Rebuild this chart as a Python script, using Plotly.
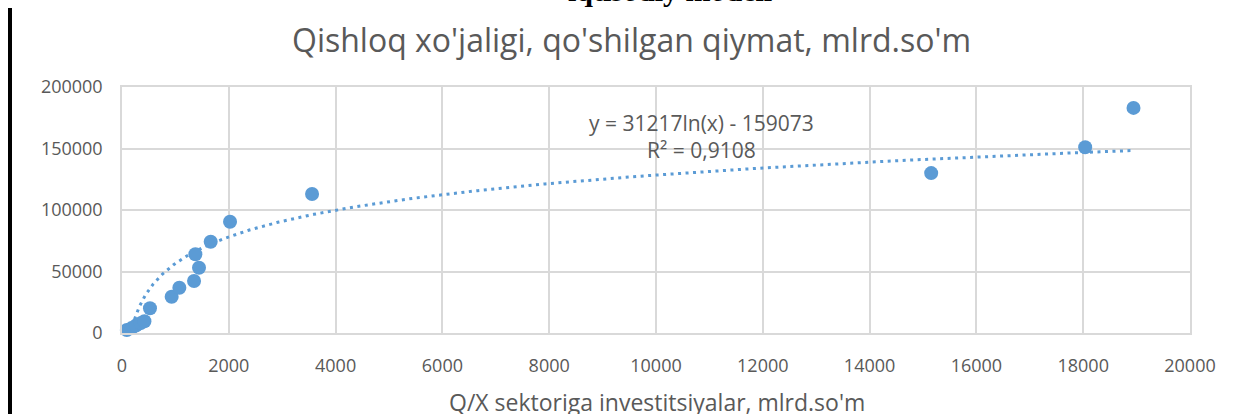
import numpy as np
import plotly.graph_objects as go

# Data
invest = [90, 180, 260, 350, 420, 524, 930, 1074, 1349, 1442, 1374, 1661, 2023, 3559, 15153, 18037, 18942]
value_added = [2500, 4000, 6000, 8000, 9500, 20100, 29500, 36800, 42300, 53100, 64000, 74200, 90500, 113000, 130000, 151000, 183000]

# Logarithmic trendline coefficients (as displayed on chart)
coef_a = 31217
coef_b = -159073
r2_text = "R² = 0,9108"
eq_text = "y = 31217ln(x) - 159073"

x_ticks = [0, 2000, 4000, 6000, 8000, 10000, 12000, 14000, 16000, 18000, 20000]
y_ticks = [0, 50000, 100000, 150000, 200000]

title_text = "Qishloq xo'jaligi, qo'shilgan qiymat, mlrd.so'm"
x_title = "Q/X sektoriga investitsiyalar, mlrd.so'm"
top_text = "iqtisodiy modeli"

blue = "#5B9BD5"
gray_text = "#595959"
grid = "#D9D9D9"
font_family = "Open Sans"

tx = np.geomspace(min(invest), max(invest), 400)
ty = coef_a * np.log(tx) + coef_b

fig = go.Figure()
fig.add_trace(go.Scatter(x=tx, y=ty, mode="lines",
                         line=dict(color=blue, width=3, dash="3px,4.5px"),
                         hoverinfo="skip", showlegend=False))
fig.add_trace(go.Scatter(x=invest, y=value_added, mode="markers",
                         marker=dict(color=blue, size=14),
                         showlegend=False, cliponaxis=False))

fig.update_layout(
    width=1240, height=414,
    margin=dict(l=122, r=50, t=87, b=81),
    paper_bgcolor="white", plot_bgcolor="white",
    font=dict(family=font_family, color=gray_text, size=18),
)
fig.update_xaxes(range=[0, 20000], tickvals=x_ticks, ticktext=[str(v) for v in x_ticks],
                 showgrid=True, gridcolor=grid, gridwidth=1.5,
                 showline=True, linecolor=grid, linewidth=1.5, mirror=True,
                 zeroline=False, ticks="", tickfont=dict(size=18, color=gray_text),
                 ticklabelstandoff=16)
fig.update_yaxes(range=[0, 200000], tickvals=y_ticks, ticktext=[str(v) for v in y_ticks],
                 showgrid=True, gridcolor=grid, gridwidth=1.5,
                 showline=True, linecolor=grid, linewidth=1.5, mirror=True,
                 zeroline=False, ticks="", tickfont=dict(size=18, color=gray_text),
                 ticklabelstandoff=14)

def py(p):
    # page pixel row -> paper y (plot area spans rows 87..333)
    return (333 - p) / 246

def px(p):
    # page pixel column -> paper x (plot area spans columns 122..1190)
    return (p - 122) / 1068

# Title
fig.add_annotation(text=title_text, xref="paper", yref="paper",
                   x=px(631), y=py(39),
                   showarrow=False, xanchor="center", yanchor="middle",
                   font=dict(size=32, color=gray_text, family=font_family))
# X axis title
fig.add_annotation(text=x_title, xref="paper", yref="paper",
                   x=px(657), y=py(402),
                   showarrow=False, xanchor="center", yanchor="middle",
                   font=dict(size=23, color=gray_text, family=font_family))
# Trendline equation
fig.add_annotation(text=eq_text + "<br>" + r2_text, xref="paper", yref="paper",
                   x=px(701), y=py(136),
                   showarrow=False, xanchor="center", yanchor="middle",
                   font=dict(size=21, color=gray_text, family=font_family))
# Clipped bold heading at the top
fig.add_annotation(text="<b>" + top_text + "</b>", xref="paper", yref="paper",
                   x=px(670), y=py(9),
                   showarrow=False, xanchor="center", yanchor="bottom",
                   font=dict(size=30, color="black", family="Liberation Serif"))
# Black vertical bar on the left
fig.add_shape(type="line", xref="paper", yref="paper",
              x0=px(10), x1=px(10), y0=py(8), y1=py(420),
              line=dict(color="black", width=4))

fig.write_html("out.html", config={"displayModeBar": False},
               post_script="document.body.style.margin='0';document.body.style.overflow='hidden';")
